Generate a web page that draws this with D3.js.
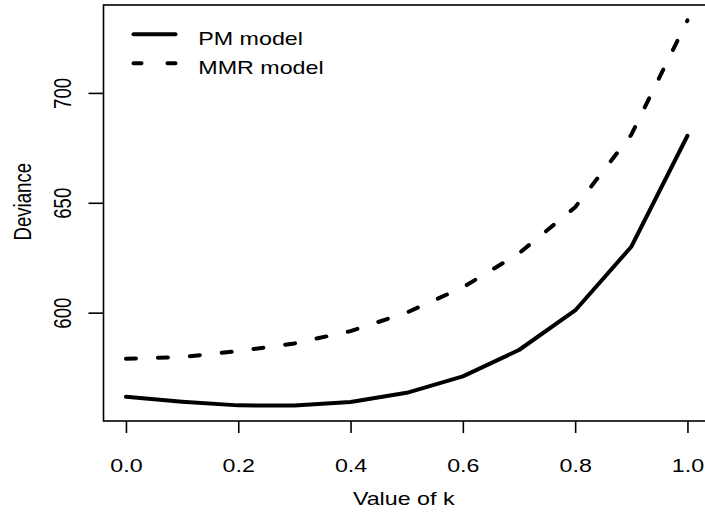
<!DOCTYPE html>
<html>
<head>
<meta charset="utf-8">
<script src="https://cdn.jsdelivr.net/npm/d3@7"></script>
<style>
  html, body { margin: 0; padding: 0; background: #fff; }
  text { font-family: "Liberation Sans", Arial, Helvetica, sans-serif; fill: #000; }
</style>
</head>
<body>
<div class="chart"></div>
<script>
// values
var kValues = [0.0, 0.1, 0.2, 0.3, 0.4, 0.5, 0.6, 0.7, 0.8, 0.9, 1.0];
var pmDeviance = [561.7, 559.5, 557.8, 557.7, 559.3, 563.5, 571.0, 583.0, 601.0, 630.0, 680.5];
var mmrDeviance = [579.0, 579.8, 582.5, 586.0, 591.6, 600.0, 611.5, 627.0, 648.0, 681.0, 733.0];
var xTicks = [0.0, 0.2, 0.4, 0.6, 0.8, 1.0];
var yTicks = [600, 650, 700];
var seriesNames = ["PM model", "MMR model"];

var W = 705, H = 515;
var margin = {top: 5, left: 103.5, bottom: 94},
    width = 606.4,
    height = H - margin.top - margin.bottom;
var fontSize = 18.6, stretch = 1.25;

// R style: pad the data range by 4% on each side
function padded(lo, hi) {
    var d = (hi - lo) * 0.04;
    return [lo - d, hi + d];
}

var x = d3.scaleLinear()
    .domain(padded(d3.min(kValues), d3.max(kValues)))
    .range([margin.left, margin.left + width]);
var y = d3.scaleLinear()
    .domain(padded(d3.min(pmDeviance.concat(mmrDeviance)), d3.max(pmDeviance.concat(mmrDeviance))))
    .range([margin.top + height, margin.top]);

var svg = d3.select("div.chart").append("svg")
    .attr("width", W)
    .attr("height", H);

var line = d3.line()
    .x(function (d, i) { return x(kValues[i]); })
    .y(function (d) { return y(d); });

svg.append("path")
    .datum(mmrDeviance)
    .attr("d", line)
    .attr("fill", "none")
    .attr("stroke", "#000")
    .attr("stroke-width", 4)
    .attr("stroke-linecap", "round")
    .attr("stroke-linejoin", "round")
    .attr("stroke-dasharray", "10 22");

svg.append("path")
    .datum(pmDeviance)
    .attr("d", line)
    .attr("fill", "none")
    .attr("stroke", "#000")
    .attr("stroke-width", 4)
    .attr("stroke-linecap", "round")
    .attr("stroke-linejoin", "round");

// box
svg.append("rect")
    .attr("x", margin.left)
    .attr("y", margin.top)
    .attr("width", width)
    .attr("height", height)
    .attr("fill", "none")
    .attr("stroke", "#000")
    .attr("stroke-width", 1.6);

// X axis
var xAxis = d3.axisBottom(x)
    .tickValues(xTicks)
    .tickSize(12)
    .tickFormat(d3.format(".1f"));

var gx = svg.append("g")
    .attr("transform", "translate(0," + (margin.top + height) + ")")
    .call(xAxis);
gx.select(".domain").remove();
gx.selectAll(".tick line").attr("stroke", "#000").attr("stroke-width", 1.6);
gx.selectAll(".tick text")
    .attr("y", 0)
    .attr("dy", null)
    .attr("transform", "translate(0,44) scale(" + stretch + ",1)")
    .attr("dominant-baseline", "central")
    .style("font-size", fontSize + "px")
    .style("font-family", null)
    .attr("font-family", null)
    .attr("font-size", null);

// Y axis
var yAxis = d3.axisLeft(y)
    .tickValues(yTicks)
    .tickSize(15);

var gy = svg.append("g")
    .attr("transform", "translate(" + margin.left + ",0)")
    .call(yAxis);
gy.select(".domain").remove();
gy.selectAll(".tick line").attr("stroke", "#000").attr("stroke-width", 1.6);
gy.selectAll(".tick text")
    .attr("x", 0)
    .attr("dy", null)
    .attr("transform", "translate(-41,0) scale(" + stretch + ",1) rotate(-90)")
    .attr("text-anchor", "middle")
    .attr("dominant-baseline", "central")
    .style("font-size", fontSize + "px")
    .attr("font-family", null)
    .attr("font-size", null);

// axis titles
svg.append("text")
    .attr("transform", "translate(" + (margin.left + width / 2 - 3) + ",498) scale(" + stretch + ",1)")
    .attr("text-anchor", "middle")
    .attr("dominant-baseline", "central")
    .style("font-size", fontSize + "px")
    .text("Value of k");

svg.append("text")
    .attr("transform", "translate(23," + y(650.5) + ") scale(" + stretch + ",1) rotate(-90)")
    .attr("text-anchor", "middle")
    .attr("dominant-baseline", "central")
    .style("font-size", fontSize + "px")
    .text("Deviance");

// legend
var legend = svg.append("g");
var legendY = [34.3, 63.3];
var legendDash = [null, "8 26"];

seriesNames.forEach(function (name, i) {
    legend.append("line")
        .attr("x1", 133.5)
        .attr("x2", 175.5)
        .attr("y1", legendY[i])
        .attr("y2", legendY[i])
        .attr("stroke", "#000")
        .attr("stroke-width", 4)
        .attr("stroke-linecap", "round")
        .attr("stroke-dasharray", legendDash[i]);
    legend.append("text")
        .attr("transform", "translate(198.3," + (legendY[i] + 4) + ") scale(" + stretch + ",1)")
        .attr("dominant-baseline", "central")
        .style("font-size", fontSize + "px")
        .text(name);
});
</script>
</body>
</html>
